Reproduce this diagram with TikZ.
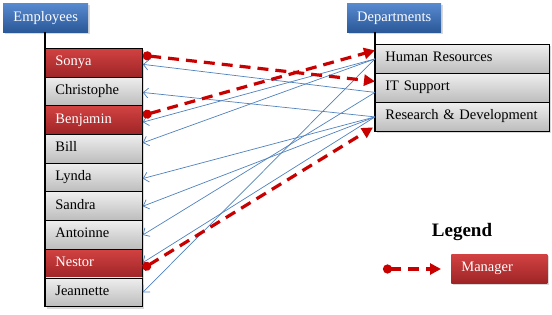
\documentclass[tikz,border=0pt]{standalone}
\usepackage{fontspec}
\setmainfont{Liberation Serif}
\usetikzlibrary{arrows.meta,shadows}
\definecolor{hdrtop}{RGB}{88,138,208}
\definecolor{hdrbot}{RGB}{42,88,152}
\definecolor{redtop}{RGB}{210,66,66}
\definecolor{redbot}{RGB}{158,36,38}
\definecolor{graytop}{RGB}{238,238,238}
\definecolor{graybot}{RGB}{188,188,188}
\definecolor{linkblue}{RGB}{79,129,189}
\definecolor{mgrred}{RGB}{200,0,0}
\begin{document}
\begin{tikzpicture}[x=1pt,y=-1pt,
 font=\fontsize{14.5}{17}\selectfont,
 shd/.style={drop shadow={opacity=0.3,shadow xshift=1.5pt,shadow yshift=-2pt}},
 header/.style={shd, top color=hdrtop, bottom color=hdrbot, text=white, minimum height=29pt, inner sep=0pt, anchor=north west, text height=10pt, text depth=3pt},
 row/.style={shd, draw=black, line width=0.8pt, anchor=north west, minimum height=28.7pt, inner xsep=10pt, inner ysep=0pt, align=left, text height=10pt, text depth=4pt},
 plain/.style={row, top color=graytop, bottom color=graybot},
 mgr/.style={row, top color=redtop, bottom color=redbot, text=white},
 link/.style={draw=linkblue, line width=0.7pt, -{Straight Barb[length=5pt,width=10pt]}},
 boss/.style={draw=mgrred, line width=3.2pt, dash pattern=on 11pt off 7pt, {Circle[length=9pt]}-{Triangle[length=11pt,width=11pt]}},
]
\useasboundingbox (0,0) rectangle (552,315);

% headers
\node[header, minimum width=85pt] (emp) at (3,3) {Employees};
\node[header, minimum width=94pt] (dep) at (347,3) {Departments};

% employees
\node[mgr,   text width=77pt] (sonya)      at (45,48)    {Sonya};
\node[plain, text width=77pt] (christophe) at (45,76.7)  {Christophe};
\node[mgr,   text width=77pt] (benjamin)   at (45,105.4) {Benjamin};
\node[plain, text width=77pt] (bill)       at (45,134.1) {Bill};
\node[plain, text width=77pt] (lynda)      at (45,162.8) {Lynda};
\node[plain, text width=77pt] (sandra)     at (45,191.5) {Sandra};
\node[plain, text width=77pt] (antoinne)   at (45,220.2) {Antoinne};
\node[mgr,   text width=77pt] (nestor)     at (45,248.9) {Nestor};
\node[plain, text width=77pt] (jeannette)  at (45,277.6) {Jeannette};

% departments
\node[plain, text width=154pt, minimum height=29pt] (hr) at (375,44)  {Human Resources};
\node[plain, text width=154pt, minimum height=29pt] (it) at (375,73)  {IT Support};
\node[plain, text width=154pt, minimum height=29pt] (rd) at (375,102) {Research \& Development};

% trunk lines
\draw[line width=1.5pt] (sonya.north west |- emp.south) -- (jeannette.south west);
\draw[line width=1.5pt] (hr.north west |- dep.south) -- (rd.south west);

% membership links
\draw[link] (it.west) ++(0,4.5) -- ([yshift=-1.6pt]sonya.east);
\draw[link] (rd.west) -- ([yshift=-1pt]christophe.east);
\draw[link] (hr.west) -- ([yshift=-2pt]benjamin.east);
\draw[link] (hr.west) -- ([yshift=6pt]bill.east);
\draw[link] (rd.west) -- ([yshift=-1pt]lynda.east);
\draw[link] (rd.west) -- (sandra.east);
\draw[link] (it.west) ++(0,4.5) -- (antoinne.east);
\draw[link] (rd.west) -- ([yshift=1pt]nestor.east);
\draw[link] (hr.west) -- (jeannette.east);

% manager links
\draw[boss] ([yshift=7.4pt]sonya.east) -- ([yshift=6.5pt]it.west);
\draw[boss] ([yshift=4.75pt]benjamin.east) -- ([yshift=8.5pt]hr.west);
\draw[boss] ([yshift=-5pt]nestor.east) -- ([xshift=-2pt,yshift=-10.5pt]rd.west);

% legend
\node[font=\bfseries\fontsize{19}{22}\selectfont, anchor=base] (leg) at (462,237) {Legend};
\node[mgr, draw=none, text width=76pt, minimum height=29pt] (manager) at (451,254) {Manager};
\coordinate (lgA) at (383,269);
\coordinate (lgB) at (441,269);
\draw[boss] (lgA) -- (lgB);
\end{tikzpicture}
\end{document}
